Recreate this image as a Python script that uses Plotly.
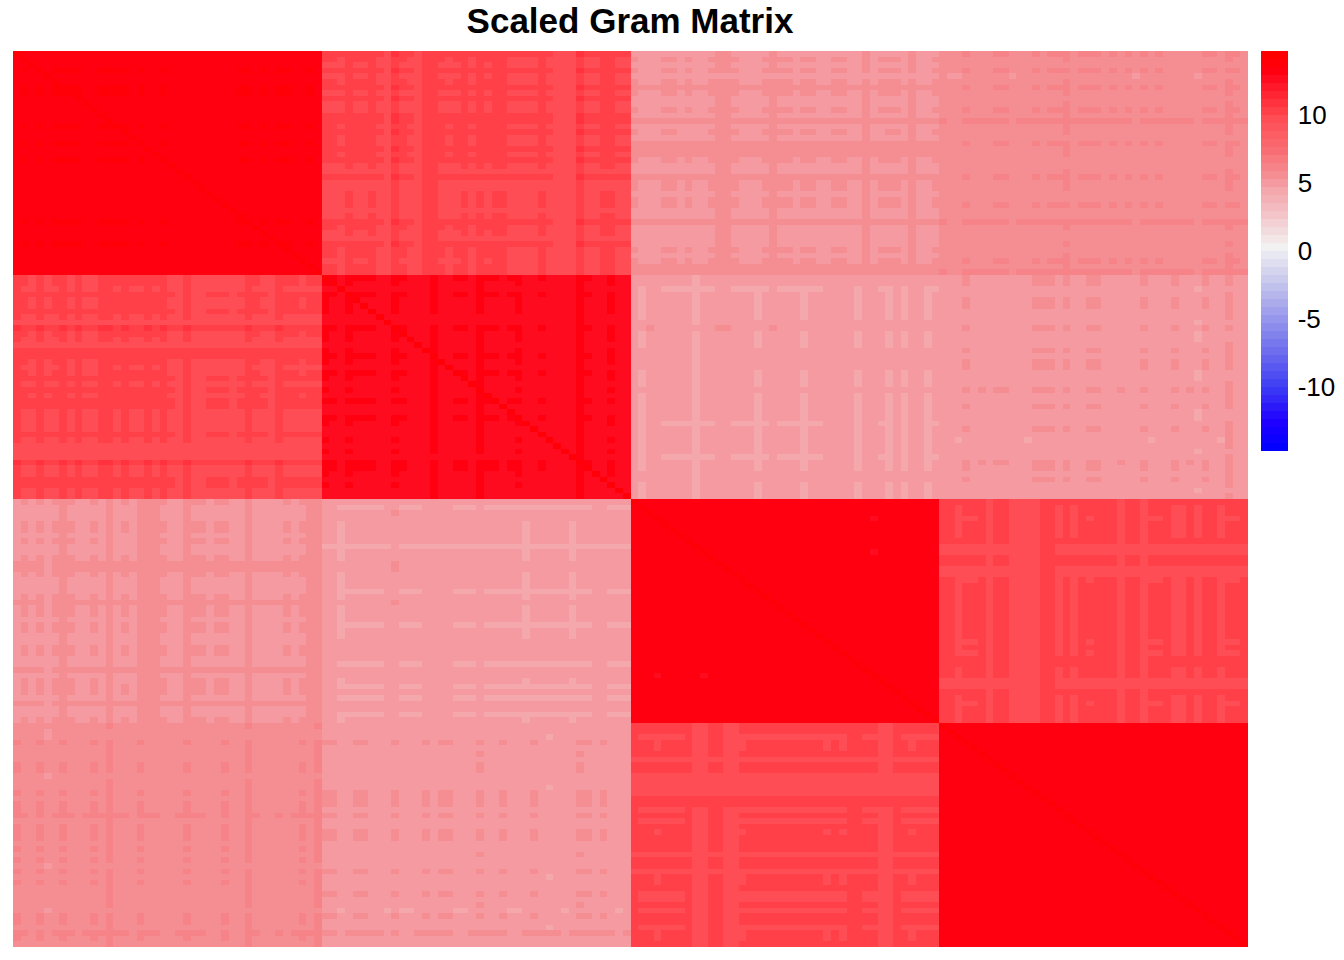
import numpy as np
import plotly.graph_objects as go

TITLE = "Scaled Gram Matrix"
GROUP_SIZE = 40
Z_RANGE = 14.7
N_BINS = 50
TICKS = [-10, -5, 0, 5, 10]

# colour of the legend read at several values
PAL_Z = [-14.7, -12.5, -10, -7.5, -5, -2.5, -0.3, 0.3, 2.5, 4.41, 5.0, 5.6, 7.5, 9.7, 10.29, 12.64, 13.23, 13.82, 14.4]
PAL_R = [0, 32, 62, 108, 150, 196, 232, 242, 243, 245, 245, 245, 250, 255, 255, 255, 255, 255, 255]
PAL_G = [0, 0, 62, 108, 150, 196, 232, 242, 200, 168, 154, 142, 108, 78, 64, 12, 0, 0, 0]
PAL_B = [255, 255, 245, 240, 236, 238, 242, 242, 204, 172, 160, 146, 114, 86, 72, 32, 16, 8, 0]

# block (row group, col group): level, direction, row stripes, col stripes
A_LEVEL, A_SIGN = 10.0, -1
A_R = [0,1,2,0,2,1,0,2,0,2,2,0,0,1,0,1,1,0,1,0,2,3,0,3,3,2,2,2,3,2,0,1,2,3,0,1,1,2,1,1]
A_C = [1,1,2,0,1,1,0,2,3,-3,1,2,3,-1,-1,1,2,1,0,2,0,1,0,0,2,2,2,2,0,2,3,3,3,-3,2,2,0,0,2,2]

B_LEVEL, B_SIGN = 5.292, 1
B_R = [0,2,0,2,-1,2,3,2,0,0,2,0,3,0,1,0,3,3,3,2,0,0,3,2,2,0,2,2,0,0,3,0,0,0,0,2,0,2,3,3]
B_C = [2,0,0,0,2,2,0,1,0,0,2,3,3,2,0,0,0,2,3,2,2,0,2,2,0,0,2,2,0,0,3,0,1,2,2,0,3,0,0,2]

C_LEVEL, C_SIGN = 5.88, 1
C_R = [1,0,-1,1,-2,0,1,0,-1,0,1,0,3,0,0,-1,1,0,0,-1,-1,0,1,0,0,-1,-1,1,-1,-1,3,0,-1,-1,0,-1,0,1,0,3]
C_C = [0,-1,-1,2,0,0,0,2,2,-1,0,0,2,0,2,2,3,0,2,2,2,0,2,0,2,-1,2,0,2,0,0,0,0,-1,2,2,0,3,2,0]

D_LEVEL, D_SIGN = 4.704, -1
D_R = [0,0,2,1,1,1,1,1,0,-2,1,1,1,0,0,0,0,1,1,1,0,1,1,1,1,1,2,1,1,1,1,1,2,1,1,0,0,1,1,1]
D_C = [0,2,-1,0,1,1,1,1,3,1,1,-1,-1,1,1,1,2,1,-1,1,1,1,2,1,1,0,0,0,0,2,0,0,1,2,0,2,0,0,2,1]

E_LEVEL, E_SIGN = 5.292, 1
E_R = [1,1,-1,0,1,1,0,0,-1,1,-1,-1,0,1,0,1,1,-1,-1,0,2,0,0,1,-1,-1,0,1,0,0,0,-1,0,2,1,0,1,0,-1,0]
E_C = [0,0,0,2,0,1,0,1,1,0,0,0,2,2,2,0,2,0,0,2,2,0,0,1,0,0,2,0,0,0,2,0,1,-2,2,0,0,3,0,0]
E_CELLS = [(29, 2), (29, 11), (29, 27), (29, 36)]

F_LEVEL, F_SIGN = 10.0, -1
F_R = [0,1,1,2,1,1,1,0,3,3,0,0,3,3,2,1,1,1,1,1,1,1,1,1,1,2,1,2,0,0,1,1,3,3,0,1,2,1,1,1]
F_C = [0,0,2,1,1,0,3,0,0,3,3,3,3,-1,-1,2,0,2,0,1,0,0,0,3,0,0,3,1,1,0,2,2,0,2,0,0,2,1,1,0]

# diagonal blocks
G1_ROWS = [3, 6, 7, 13, 16, 19, 30, 34]
G1_COLS = [1, 3, 5, 6, 7, 8, 11, 12, 13, 14, 16, 19, 29, 30, 32, 34, 35, 38]
G2_LEVEL, G2_SIGN = 12.826, -1
G2_R = [0,1,2,0,1,1,1,3,3,0,1,1,2,1,0,1,2,0,1,2,1,2,0,2,2,0,1,2,2,1,2,1,3,0,0,1,2,1,2,2]
G2_C = [0,1,2,0,1,1,1,3,3,0,1,2,2,2,-1,2,2,1,1,3,-1,1,1,2,1,0,2,2,1,3,3,3,3,-2,1,2,2,0,2,2]
G3_CELLS = [(3, 31), (9, 31)]
DIAG_BASE = 13.2
DIAG_HIGH = 13.8
LIGHT_CELL = 12.6

BLOCKS = [
    (0, 1, A_LEVEL, A_SIGN, A_R, A_C),
    (0, 2, B_LEVEL, B_SIGN, B_R, B_C),
    (0, 3, C_LEVEL, C_SIGN, C_R, C_C),
    (1, 2, D_LEVEL, D_SIGN, D_R, D_C),
    (1, 3, E_LEVEL, E_SIGN, E_R, E_C),
    (2, 3, F_LEVEL, F_SIGN, F_R, F_C),
]


def stripes(level, sign, rr, cc):
    return level + sign * 0.11 * (np.add.outer(np.array(rr), np.array(cc)) - 2.5)


n = GROUP_SIZE * 4
z = np.zeros((n, n))
for a, b, level, sign, rr, cc in BLOCKS:
    block = stripes(level, sign, rr, cc)
    if (a, b) == (1, 3):
        for i, j in E_CELLS:
            block[i, j] = 4.5
    z[a * GROUP_SIZE:(a + 1) * GROUP_SIZE, b * GROUP_SIZE:(b + 1) * GROUP_SIZE] = block
    z[b * GROUP_SIZE:(b + 1) * GROUP_SIZE, a * GROUP_SIZE:(a + 1) * GROUP_SIZE] = block.T

for g in range(4):
    if g == 1:
        block = stripes(G2_LEVEL, G2_SIGN, G2_R, G2_C)
    else:
        block = np.full((GROUP_SIZE, GROUP_SIZE), DIAG_BASE)
    if g == 0:
        for i in G1_ROWS:
            for j in G1_COLS:
                block[i, j] = DIAG_HIGH
    if g == 2:
        for i, j in G3_CELLS:
            block[i, j] = LIGHT_CELL
            block[j, i] = LIGHT_CELL
    np.fill_diagonal(block, DIAG_HIGH)
    z[g * GROUP_SIZE:(g + 1) * GROUP_SIZE, g * GROUP_SIZE:(g + 1) * GROUP_SIZE] = block

edges = np.linspace(0, 1, N_BINS + 1)
colorscale = []
for k in range(N_BINS):
    c = -Z_RANGE + (k + 0.5) * 2 * Z_RANGE / N_BINS
    col = "rgb(%d,%d,%d)" % (np.interp(c, PAL_Z, PAL_R), np.interp(c, PAL_Z, PAL_G), np.interp(c, PAL_Z, PAL_B))
    colorscale.append([float(edges[k]), col])
    colorscale.append([float(edges[k + 1]), col])

fig = go.Figure(go.Heatmap(
    z=z, zmin=-Z_RANGE, zmax=Z_RANGE, colorscale=colorscale,
    colorbar=dict(
        thickness=27, thicknessmode="pixels", len=400, lenmode="pixels",
        x=1.0105, xanchor="left", y=1, yanchor="top", xpad=0, ypad=0,
        outlinewidth=0, borderwidth=0, tickvals=TICKS, ticktext=[str(t) for t in TICKS],
        ticks="outside", ticklen=5, tickcolor="rgba(255,255,255,0)",
        tickfont=dict(family="Liberation Sans", size=26, color="black"),
    ),
))
fig.update_layout(
    width=1344, height=960, margin=dict(l=13, r=96, t=51, b=13, autoexpand=False),
    paper_bgcolor="white", plot_bgcolor="white",
    title=dict(text="<b>%s</b>" % TITLE, x=630 / 1344, xanchor="center", y=1 - 21 / 960, yanchor="middle",
               font=dict(family="Liberation Sans", size=35, color="black")),
    xaxis=dict(visible=False),
    yaxis=dict(visible=False, autorange="reversed"),
)
fig.write_html("out.html", config={"displayModeBar": False}, post_script="document.body.style.margin='0';")
